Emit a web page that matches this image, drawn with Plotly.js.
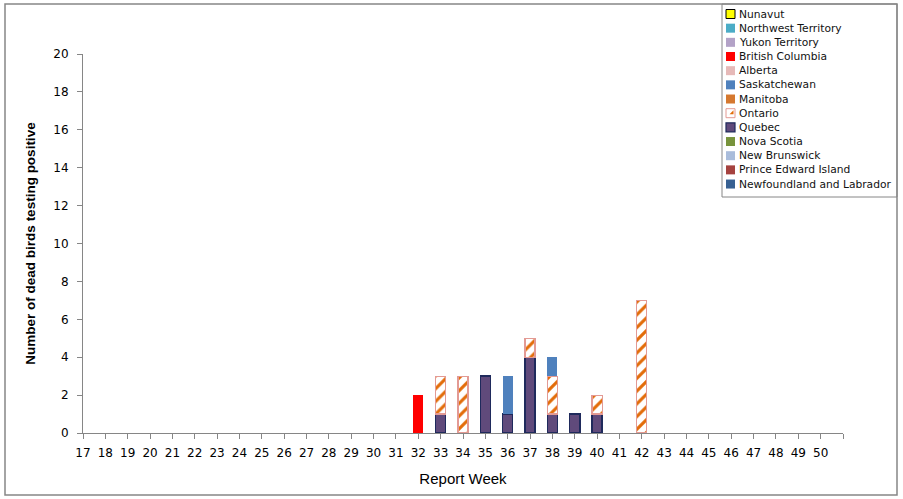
<!DOCTYPE html>
<html>
<head>
<meta charset="utf-8">
<script src="https://cdn.plot.ly/plotly-3.0.1.min.js"></script>
<style>
  html, body { margin: 0; padding: 0; background: #fff; }
  #chart { width: 903px; height: 499px; }
</style>
</head>
<body>
<div id="chart"></div>
<script>
// report weeks shown on the axis
var weekLabels = [17,18,19,20,21,22,23,24,25,26,27,28,29,30,31,32,33,34,35,36,37,38,39,40,41,42,43,44,45,46,47,48,49,50];

// weeks that have positive birds
var weeks = [32, 33, 34, 35, 36, 37, 38, 39, 40, 41, 42];

// provinces, in stacking order (bottom first)
var provinces = ['Newfoundland and Labrador', 'Prince Edward Island', 'New Brunswick', 'Nova Scotia',
  'Quebec', 'Ontario', 'Manitoba', 'Saskatchewan', 'Alberta', 'British Columbia',
  'Yukon Territory', 'Northwest Territory', 'Nunavut'];

// null = no positive birds that week
var nlVals  = [null, null, null, null, null, null, null, null, null, null, null];
var peiVals = [null, null, null, null, null, null, null, null, null, null, null];
var nbVals  = [null, null, null, null, null, null, null, null, null, null, null];
var nsVals  = [null, null, null, null, null, null, null, null, null, null, null];
var qcVals  = [null, 1, null, 3, 1, 4, 1, 1, 1, null, null];
var onVals  = [null, 2, 3, null, null, 1, 2, null, 1, null, 7];
var mbVals  = [null, null, null, null, null, null, null, null, null, null, null];
var skVals  = [null, null, null, null, 2, null, 1, null, null, null, null];
var abVals  = [null, null, null, null, null, null, null, null, null, null, null];
var bcVals  = [2, null, null, null, null, null, null, null, null, null, null];
var ytVals  = [null, null, null, null, null, null, null, null, null, null, null];
var ntVals  = [null, null, null, null, null, null, null, null, null, null, null];
var nuVals  = [null, null, null, null, null, null, null, null, null, null, null];

var series = [nlVals, peiVals, nbVals, nsVals, qcVals, onVals, mbVals, skVals, abVals, bcVals, ytVals, ntVals, nuVals];

var colors = ['#376092', '#A5423F', '#A9BCDB', '#77933C', '#604A7B', '#FFFFFF', '#D5782F',
  '#4F81BD', '#E6B9B8', '#FF0000', '#B3A2C7', '#4BACC6', '#FFFF00'];

var axisGrey = '#868686';
var font = 'DejaVu Sans, Verdana, sans-serif';

var traces = [];
for (var i = 0; i < provinces.length; i++) {
  var t = {
    x: weeks, y: series[i], name: provinces[i], type: 'bar', width: 0.45,
    marker: { color: colors[i], line: { width: 0 } },
    hoverinfo: 'x+y+name'
  };
  if (provinces[i] == 'Quebec') t.marker.line = { color: '#1F2A5C', width: 1.5 };
  if (provinces[i] == 'Ontario') {
    t.marker.line = { color: '#E39A94', width: 1.2 };
    t.marker.pattern = { shape: '/', fgcolor: '#E36C09', bgcolor: '#FFFFFF', size: 9, solidity: 0.35 };
  }
  traces.push(t);
}

// plot area is 83..843 px wide, 54..433 px tall; helpers to place things in paper units
function px(x) { return (x - 83) / 760; }
function py(y) { return (433 - y) / 379; }

var shapes = [];
var annotations = [];

// outer chart frame
shapes.push({ type: 'rect', xref: 'paper', yref: 'paper', x0: px(5), x1: px(897), y0: py(495), y1: py(4),
  line: { color: axisGrey, width: 1.5 } });

// legend box, drawn by hand so entries sit as close as the original
shapes.push({ type: 'rect', xref: 'paper', yref: 'paper', x0: px(722), x1: px(897), y0: py(197), y1: py(4),
  line: { color: axisGrey, width: 1 } });

for (var k = 0; k < provinces.length; k++) {
  var idx = provinces.length - 1 - k;
  var cy = 14 + k * 14.17;
  var sw = { type: 'rect', xref: 'paper', yref: 'paper', x0: px(726), x1: px(735), y0: py(cy + 4.5), y1: py(cy - 4.5),
    fillcolor: colors[idx], line: { width: 0 } };
  if (provinces[idx] == 'Nunavut') sw.line = { color: '#000000', width: 1 };
  if (provinces[idx] == 'Quebec') sw.line = { color: '#1F2A5C', width: 1.2 };
  if (provinces[idx] == 'Ontario') sw.line = { color: '#E39A94', width: 1 };
  shapes.push(sw);
  if (provinces[idx] == 'Ontario') {
    shapes.push({ type: 'path', xref: 'paper', yref: 'paper',
      path: 'M' + px(729.5) + ',' + py(cy + 1) + ' L' + px(733.5) + ',' + py(cy - 3) + ' L' + px(733.5) + ',' + py(cy + 1) + ' Z',
      fillcolor: '#E36C09', line: { width: 0 } });
  }
  annotations.push({ xref: 'paper', yref: 'paper', x: px(737), y: py(cy), xanchor: 'left', yanchor: 'middle',
    text: provinces[idx], showarrow: false, font: { family: font, size: 10.7, color: '#111' } });
}

var tickVals = weekLabels.concat([51]);
var tickText = weekLabels.map(String).concat(['']);

var layout = {
  width: 903, height: 499,
  margin: { l: 83, r: 60, t: 54, b: 66 },
  paper_bgcolor: '#FFFFFF', plot_bgcolor: '#FFFFFF',
  barmode: 'stack',
  showlegend: false,
  font: { family: font, size: 12, color: '#000' },
  xaxis: {
    range: [17, 51], tickvals: tickVals, ticktext: tickText,
    showgrid: false, zeroline: false, showline: true, linecolor: axisGrey, linewidth: 1,
    ticks: 'outside', ticklen: 5, tickcolor: axisGrey, ticklabelstandoff: 4,
    tickfont: { family: font, size: 12, color: '#000' },
    title: { text: 'Report Week', font: { family: 'Liberation Sans, Arial, sans-serif', size: 15, color: '#000' }, standoff: 14 }
  },
  yaxis: {
    range: [0, 20], dtick: 2, tick0: 0,
    showgrid: false, zeroline: false, showline: true, linecolor: axisGrey, linewidth: 1,
    ticks: 'outside', ticklen: 5, tickcolor: axisGrey, ticklabelstandoff: 6,
    tickfont: { family: font, size: 12, color: '#000' },
    title: { text: '<b>Number of dead birds testing positive</b>', font: { family: 'Liberation Sans, Arial, sans-serif', size: 13.5, color: '#000' }, standoff: 14 }
  },
  shapes: shapes,
  annotations: annotations
};

Plotly.newPlot('chart', traces, layout, { displayModeBar: false, staticPlot: true });
</script>
</body>
</html>
